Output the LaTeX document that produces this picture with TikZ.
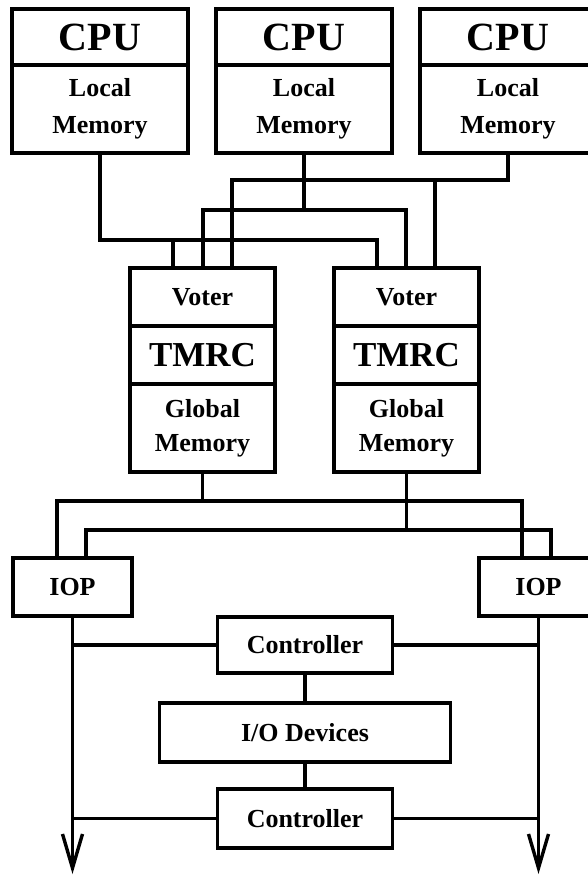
\documentclass[tikz,border=0pt]{standalone}
\usepackage{fontspec}
\setmainfont{Liberation Serif}
\usetikzlibrary{arrows.meta,positioning}

\begin{document}
\begin{tikzpicture}[
  x=1pt, y=-1pt,
  cell/.style={draw, line width=3.6pt, outer sep=0pt, inner sep=0pt, align=center},
  wire/.style={draw, line width=3.4pt},
  bigtxt/.style={font=\bfseries\fontsize{40}{40}\selectfont},
  midtxt/.style={font=\bfseries\fontsize{35}{35}\selectfont},
  txt/.style={font=\bfseries\fontsize{26}{34}\selectfont},
  loosetxt/.style={font=\bfseries\fontsize{26}{37}\selectfont},
  exit/.style={wire, -{Straight Barb[length=34pt,width=20pt]}}
]
\useasboundingbox (0,0) rectangle (588,878);
\clip (0,0) rectangle (588,878);

% processors with local memory
\node[cell, bigtxt, minimum width=176pt, minimum height=56pt, anchor=north west] (cpu1) at (12,9) {CPU};
\node[cell, loosetxt, minimum width=176pt, minimum height=88pt, anchor=north] (lm1) at (cpu1.south) {Local\\Memory};
\node[cell, bigtxt, minimum width=176pt, minimum height=56pt, anchor=north west] (cpu2) at (216,9) {CPU};
\node[cell, loosetxt, minimum width=176pt, minimum height=88pt, anchor=north] (lm2) at (cpu2.south) {Local\\Memory};
\node[cell, bigtxt, minimum width=176pt, minimum height=56pt, anchor=north west] (cpu3) at (420,9) {CPU};
\node[cell, loosetxt, minimum width=176pt, minimum height=88pt, anchor=north] (lm3) at (cpu3.south) {Local\\Memory};

% voted global memories
\node[cell, txt, minimum width=145pt, minimum height=58pt, anchor=north west] (vot1) at (130,268) {Voter};
\node[cell, midtxt, minimum width=145pt, minimum height=58pt, anchor=north] (tmr1) at (vot1.south) {TMRC};
\node[cell, txt, minimum width=145pt, minimum height=88pt, anchor=north] (gm1) at (tmr1.south) {Global\\Memory};
\node[cell, txt, minimum width=145pt, minimum height=58pt, anchor=north west] (vot2) at (334,268) {Voter};
\node[cell, midtxt, minimum width=145pt, minimum height=58pt, anchor=north] (tmr2) at (vot2.south) {TMRC};
\node[cell, txt, minimum width=145pt, minimum height=88pt, anchor=north] (gm2) at (tmr2.south) {Global\\Memory};

% I/O side
\node[cell, txt, minimum width=119pt, minimum height=58pt, anchor=north west] (iop1) at (13,558) {IOP};
\node[cell, txt, minimum width=119pt, minimum height=58pt, anchor=north west] (iop2) at (479,558) {IOP};
\node[cell, txt, minimum width=175pt, minimum height=56pt, anchor=north] (ctl1) at (305,617) {Controller};
\node[cell, txt, minimum width=291pt, minimum height=59pt, below=30pt of ctl1] (dev) {I/O Devices};
\node[cell, txt, minimum width=175pt, minimum height=59pt, below=27pt of dev] (ctl2) {Controller};

% taps on the voter tops and IOP tops
\coordinate (v1a) at (173,268);
\coordinate (v1b) at (203,268);
\coordinate (v1c) at (232,268);
\coordinate (v2a) at (377,268);
\coordinate (v2b) at (406,268);
\coordinate (v2c) at (435,268);
\coordinate (i1a) at (57,558);
\coordinate (i1b) at (86,558);
\coordinate (i2a) at (522,558);
\coordinate (i2b) at (551,558);

\coordinate (bus1) at ([yshift=-87pt]lm1.south);
\coordinate (bus2) at ([yshift=-57pt]lm2.south);
\coordinate (bus3) at ([yshift=-27pt]lm3.south);
\draw[wire] (lm1.south) -- (bus1) -| (v2a);
\draw[wire] (v1a |- bus1) -- (v1a);
\draw[wire] (lm2.south) -- (bus2);
\draw[wire] (v1b) |- (bus2) -| (v2b);
\draw[wire] (lm3.south) -- (bus3) -| (v1c);
\draw[wire] (v2c |- bus3) -- (v2c);

\coordinate (mb1) at ([yshift=-29pt]gm1.south);
\coordinate (mb2) at ([yshift=-58pt]gm2.south);
\draw[wire] (gm1.south) -- (mb1);
\draw[wire] (i1a) |- (mb1) -| (i2a);
\draw[wire] (gm2.south) -- (mb2);
\draw[wire] (i1b) |- (mb2) -| (i2b);

\coordinate (end1) at ([yshift=-258pt]iop1.south);
\coordinate (end2) at ([yshift=-258pt]iop2.south);
\draw[exit] (iop1.south) -- (end1);
\draw[exit] (iop2.south) -- (end2);

\draw[wire] (ctl1.west) -- (ctl1.west -| iop1.south);
\draw[wire] (ctl1.east) -- (ctl1.east -| iop2.south);
\draw[wire] (ctl2.west) -- (ctl2.west -| iop1.south);
\draw[wire] (ctl2.east) -- (ctl2.east -| iop2.south);
\draw[wire] (ctl1) -- (dev);
\draw[wire] (dev) -- (ctl2);
\end{tikzpicture}
\end{document}
